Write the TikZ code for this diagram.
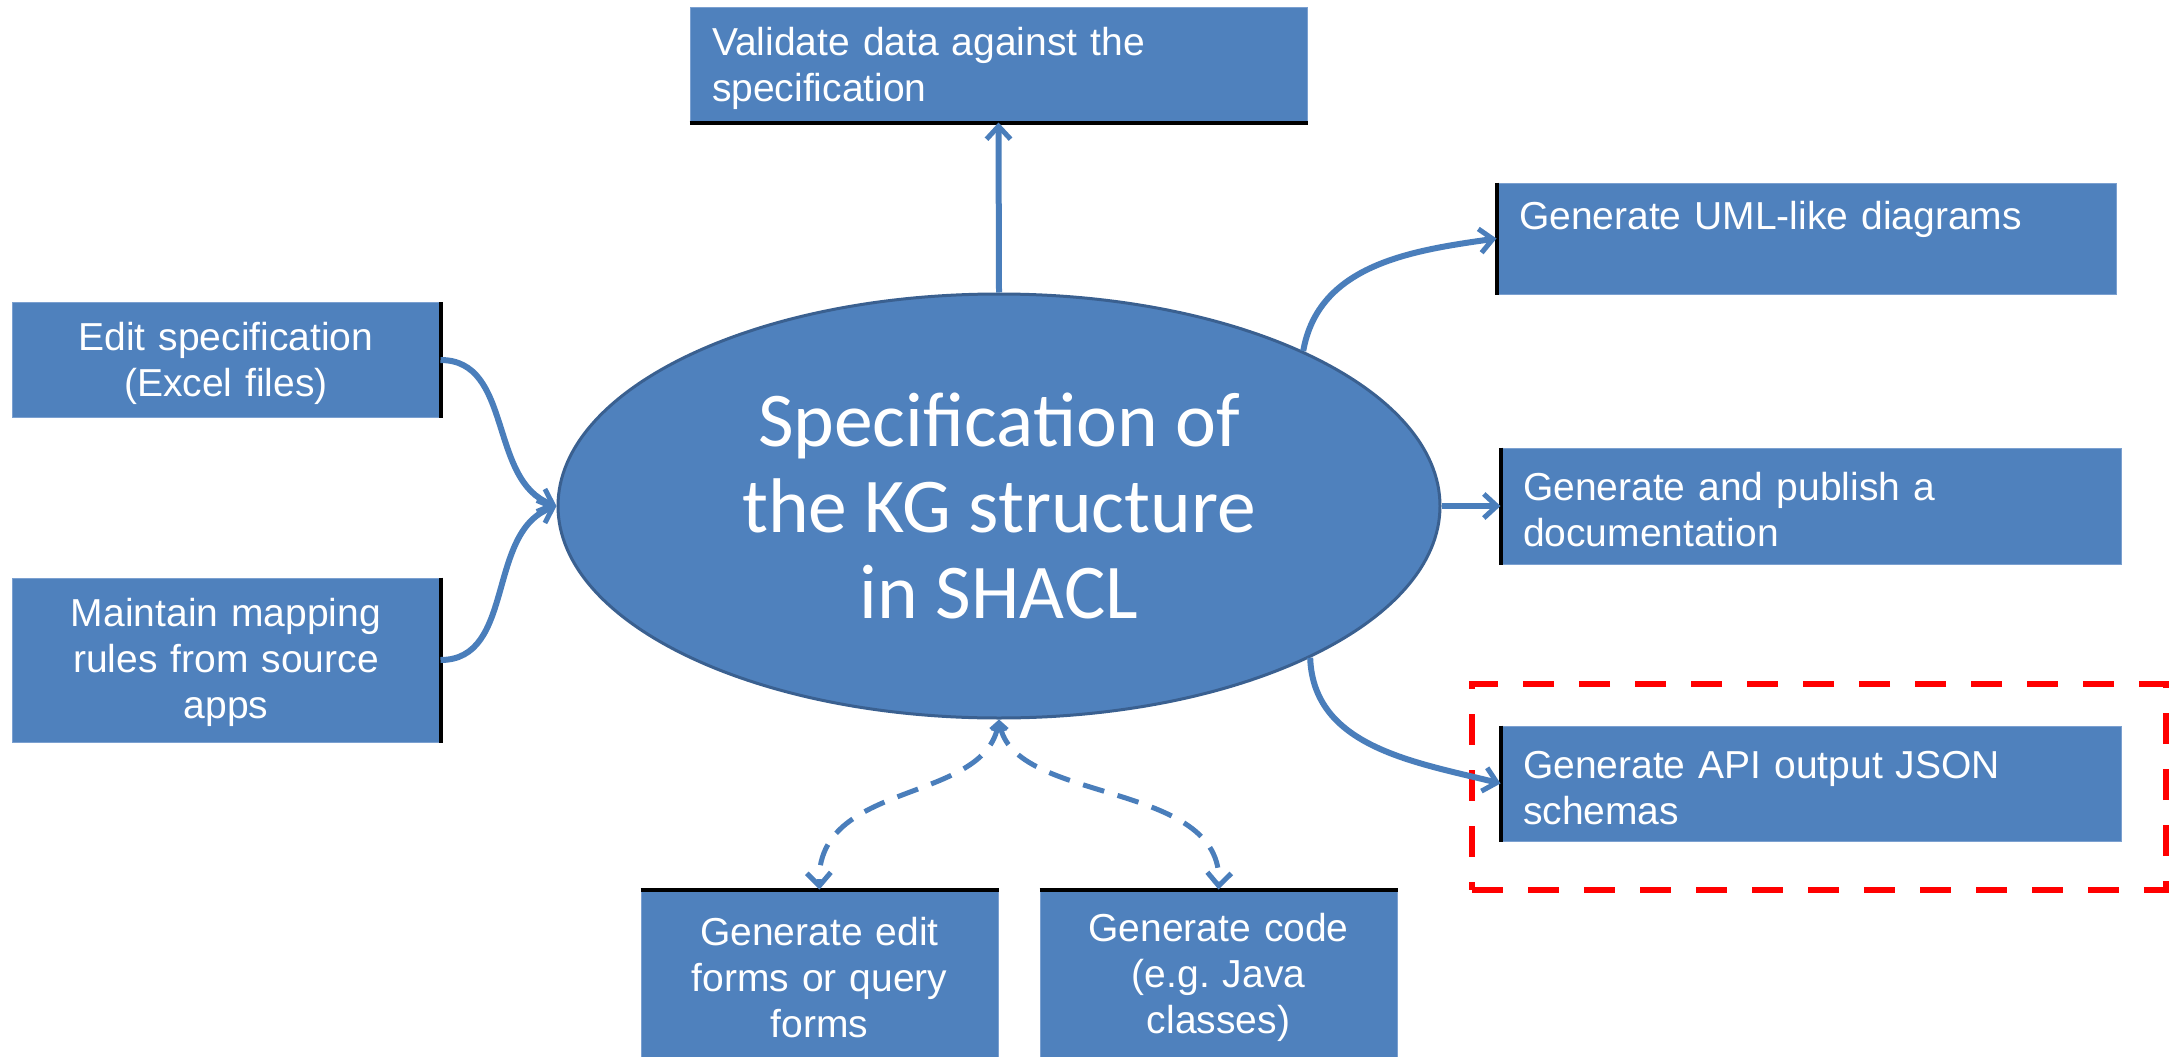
\documentclass[tikz,border=0pt]{standalone}
\usepackage{fontspec}
\setmainfont{Liberation Sans}
\newfontfamily\carlito{Carlito}
\usetikzlibrary{shapes.geometric,arrows.meta}
\definecolor{boxblue}{HTML}{4F81BD}
\definecolor{boxrim}{HTML}{7BA0D0}
\definecolor{lineblue}{HTML}{4A7EBB}
\definecolor{ellrim}{HTML}{3A6090}
\definecolor{hlred}{HTML}{FF0000}
\frenchspacing
\begin{document}
\begin{tikzpicture}[x=1pt,y=1pt,
  box/.style={rectangle, fill=boxblue, draw=boxrim, line width=1pt, text=white,
    inner sep=0pt, text height=36pt, font=\fontsize{39}{46}\selectfont},
  specnode/.style={ellipse, fill=boxblue, draw=ellrim, line width=3pt, text=white,
    inner sep=0pt, align=center, font=\carlito\fontsize{77.5}{86}\selectfont},
  edgeline/.style={black, line width=4pt},
  tip/.tip={Straight Barb[length=13pt,width=24pt,line width=5pt]},
  smalltip/.tip={Straight Barb[length=8pt,width=13pt,line width=4pt]},
  arr/.style={draw=lineblue, line width=6pt, -tip},
  dasharr/.style={draw=lineblue, line width=5pt, dash pattern=on 22pt off 14pt, smalltip-tip},
  hlbox/.style={rectangle, draw=hlred, line width=6pt, dash pattern=on 31pt off 25pt}
]
\useasboundingbox (0,0) rectangle (2177,-1057);
\fill[white] (0,0) rectangle (2177,-1057);

% central ellipse
\node[specnode, minimum width=882pt, minimum height=424pt] (spec) at (999,-506)
  {Specification of\\the KG structure\\in SHACL};

% boxes
\node[box, minimum width=617pt, minimum height=114pt, text width=573pt, align=left] (valid) at (998.5,-65)
  {Validate data against the\\specification};
\node[box, minimum width=428pt, minimum height=115pt, text width=384pt, align=center] (edit) at (226,-360)
  {Edit specification\\(Excel files)};
\node[box, minimum width=428pt, minimum height=164pt, text width=384pt, align=center, text height=33pt] (maint) at (226,-660)
  {Maintain mapping\\rules from source\\apps};
\node[box, minimum width=619pt, minimum height=111pt, text width=575pt, align=left, text height=28.5pt] (uml) at (1806.5,-238.5)
  {Generate UML-like diagrams\\\mbox{}};
\node[box, minimum width=620pt, minimum height=116pt, text width=576pt, align=left] (doc) at (1811,-506)
  {Generate and publish a\\documentation};
\node[box, minimum width=620pt, minimum height=115pt, text width=576pt, align=left] (json) at (1811,-783.5)
  {Generate API output JSON\\schemas};
\node[box, minimum width=357pt, minimum height=167pt, text width=330pt, align=center] (forms) at (819.5,-973.5)
  {Generate edit\\forms or query\\forms};
\node[box, minimum width=357pt, minimum height=167pt, text width=330pt, align=center] (code) at (1218.5,-973.5)
  {Generate code\\(e.g. Java\\classes)};

% black edges
\draw[edgeline] (valid.south west) -- (valid.south east);
\draw[edgeline] (edit.north east) -- (edit.south east);
\draw[edgeline] (maint.north east) -- (maint.south east);
\draw[edgeline] (uml.north west) -- (uml.south west);
\draw[edgeline] (doc.north west) -- (doc.south west);
\draw[edgeline] (json.north west) -- (json.south west);
\draw[edgeline] (forms.north west) -- (forms.north east);
\draw[edgeline] (code.north west) -- (code.north east);

% highlight
\node[hlbox, minimum width=694pt, minimum height=206pt] (hl) at (1819,-787) {};

% connectors
\draw[arr] (spec.north) -- (valid.south);
\draw[arr] (edit.east) to[out=0,in=160] (spec.west);
\draw[arr] (maint.east) to[out=0,in=200] (spec.west);
\draw[arr] (spec.27) to[out=80,in=188] (uml.west);
\draw[arr] (spec.east) -- (doc.west);
\draw[arr] (spec.-26) to[out=-88,in=166] (json.west);
\draw[dasharr] (spec.south) .. controls +(-14,-85) and +(-4.5,110) .. (forms.north);
\draw[dasharr] (spec.south) .. controls +(14,-85) and +(5.5,110) .. (code.north);
\end{tikzpicture}
\end{document}
